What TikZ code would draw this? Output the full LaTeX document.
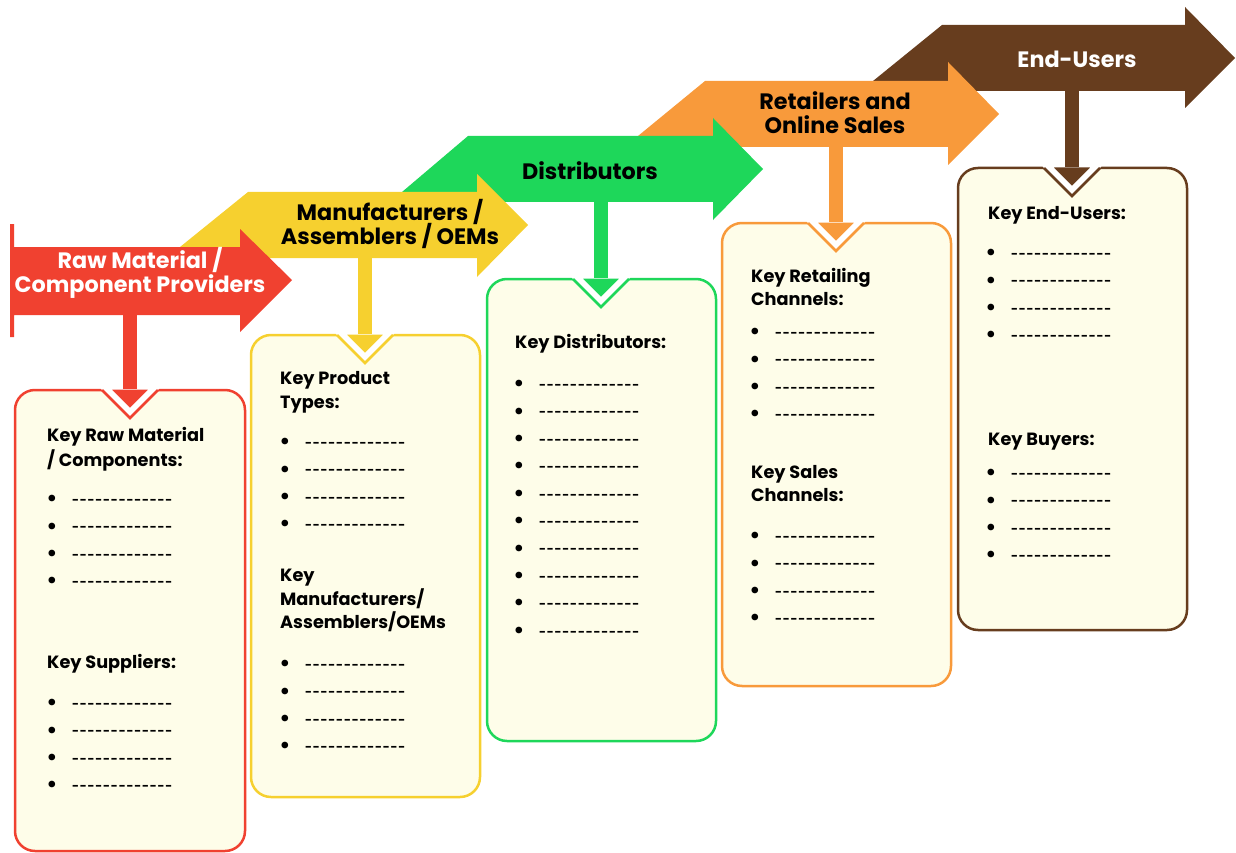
\documentclass[tikz,border=0pt]{standalone}
\usepackage{fontspec}
\setmainfont{Poppins}
\definecolor{cred}{HTML}{F04130}
\definecolor{cyel}{HTML}{F6D02F}
\definecolor{cgrn}{HTML}{1ED75A}
\definecolor{corg}{HTML}{F89A3B}
\definecolor{cbrn}{HTML}{673D1E}
\definecolor{cream}{HTML}{FEFDE9}
\newcommand\dk{\kern0.8pt}
\newcommand\dashrow{-\dk-\dk-\dk-\dk-\dk-\dk-\dk-\dk-\dk-\dk-\dk-\dk-}
\newcommand\stbox[6]{%
  \filldraw[fill=cream, draw=#1, line width=2.5, rounded corners=20] (#2,#4) rectangle (#3,#5);
  \fill[white] (#6-30,#4-2.5) -- (#6+30,#4-2.5) -- (#6+28,#4) -- (#6,#4+28) -- (#6-28,#4) -- cycle;
  \draw[#1, line width=2.5, line join=miter] (#6-28,#4) -- (#6,#4+28) -- (#6+28,#4);
}
\newcommand\sdown[4]{% color, cx, shaft top, box top
  \filldraw[fill=#1, draw=white, line width=3, line join=miter] (#2-22,#4-2) -- (#2+22,#4-2) -- (#2,#4+20) -- cycle;
  \fill[#1] (#2-7,#3-3) rectangle (#2+7,#4-1);
}
\newcommand\items[4]{%
  \foreach \i in {1,...,#4}{%
    \node[bul] (#1b\i) at (#2, {#3+4+(\i-1)*27.4}) {•};
    \node[dsh] (#1d\i) at (#2+20, {#3+4+(\i-1)*27.4}) {\dashrow};
  }}
\begin{document}
\begin{tikzpicture}[x=1pt,y=-1pt,
  head/.style={anchor=base west, inner sep=0, font=\fontsize{17.7}{20}\selectfont\bfseries},
  bul/.style={anchor=center, inner sep=0, yshift=0.5, font=\fontsize{27}{27}\selectfont},
  dsh/.style={anchor=west, inner sep=0, font=\fontsize{12}{14}\selectfont\bfseries},
  lab/.style={anchor=base, inner sep=0, font=\fontsize{22.3}{24}\selectfont\bfseries}]
\useasboundingbox (0,0) rectangle (1236,853);
% stage arrows (back to front)
\fill[cbrn] (873,81) -- (942,25) -- (1185,25) -- (1185,7) -- (1235,58) -- (1185,108) -- (1185,91) -- (873,91) -- cycle;
\fill[corg] (638,136) -- (705,81) -- (948,81) -- (948,62) -- (999,114) -- (948,165) -- (948,147) -- (638,147) -- cycle;
\fill[cgrn] (402,192) -- (468,136) -- (713,136) -- (713,118) -- (763,169) -- (713,220) -- (713,202) -- (402,202) -- cycle;
\fill[cyel] (180,247) -- (248,192) -- (477,192) -- (477,174) -- (528,225) -- (477,277) -- (477,258) -- (180,258) -- cycle;
\fill[cred] (10,224) -- (14,224) -- (14,247) -- (240,247) -- (240,229) -- (292,280) -- (240,332) -- (240,315) -- (14,315) -- (14,337) -- (10,337) -- cycle;
% stage labels
\node[lab, text=white] (s1a) at (140,268) {Raw Material /};
\node[lab, text=white] (s1b) at (140,292) {Component Providers};
\node[lab] (s2a) at (390,220) {Manufacturers /};
\node[lab] (s2b) at (390,244) {Assemblers / OEMs};
\node[lab] (s3) at (590,180) {Distributors};
\node[lab] (s4a) at (835,110) {Retailers and};
\node[lab] (s4b) at (835,134) {Online Sales};
\node[lab, text=white] (s5) at (1077,68) {End-Users};
% boxes
\stbox{cred}{15}{245}{390}{851}{130}
\stbox{cyel}{251}{480}{335}{797}{365}
\stbox{cgrn}{487}{716}{279}{741}{601}
\stbox{corg}{722}{951}{223}{686}{836}
\stbox{cbrn}{958}{1187}{168}{630}{1072}
% down connectors
\sdown{cred}{130}{315}{390}
\sdown{cyel}{365}{258}{335}
\sdown{cgrn}{601}{202}{279}
\sdown{corg}{836}{147}{223}
\sdown{cbrn}{1072}{91}{168}
% box 1
\node[head] (h1a) at (47,441) {Key Raw Material};
\node[head] (h1b) at (47,466) {/ Components:};
\items{r}{52}{498}{4}
\node[head] (h1c) at (47,668) {Key Suppliers:};
\items{s}{52}{702}{4}
% box 2
\node[head] (h2a) at (280,384) {Key Product};
\node[head] (h2b) at (280,408) {Types:};
\items{p}{285}{441}{4}
\node[head] (h2c) at (280,581) {Key};
\node[head] (h2d) at (280,605) {Manufacturers/};
\node[head] (h2e) at (280,628) {Assemblers/OEMs};
\items{m}{285}{663}{4}
% box 3
\node[head] (h3a) at (515,348) {Key Distributors:};
\items{g}{519}{383}{10}
% box 4
\node[head] (h4a) at (751,282) {Key Retailing};
\node[head] (h4b) at (751,305) {Channels:};
\items{o}{755}{331}{4}
\node[head] (h4c) at (751,478) {Key Sales};
\node[head] (h4d) at (751,501) {Channels:};
\items{q}{755}{535}{4}
% box 5
\node[head] (h5a) at (988,219) {Key End-Users:};
\items{e}{991}{252}{4}
\node[head] (h5b) at (988,445) {Key Buyers:};
\items{u}{991}{472}{4}
\end{tikzpicture}
\end{document}
